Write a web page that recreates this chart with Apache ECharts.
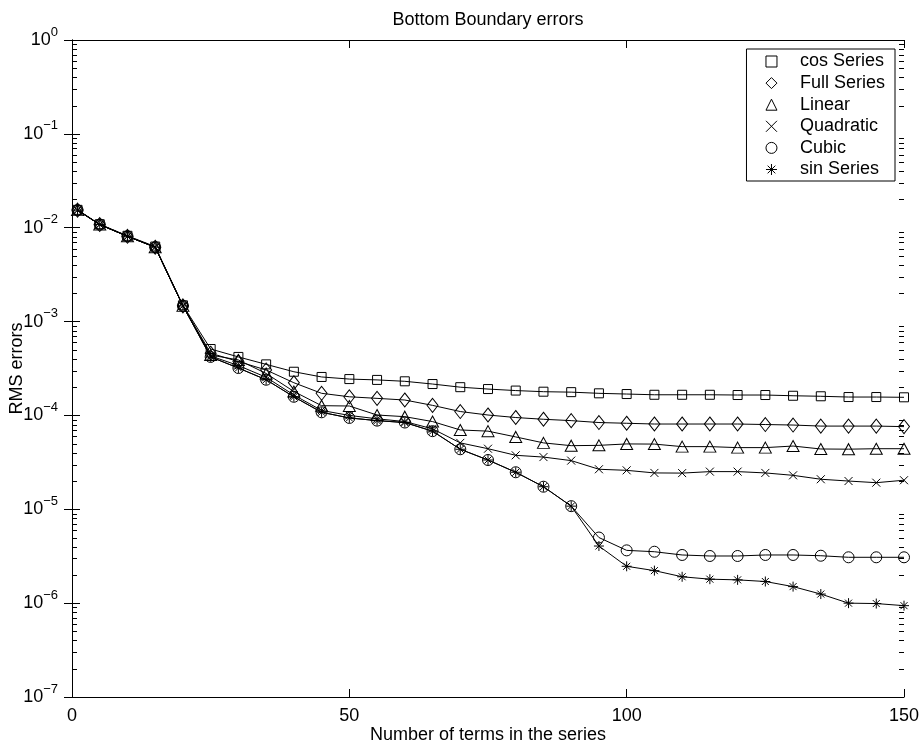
<!DOCTYPE html>
<html>
<head>
<meta charset="utf-8">
<script src="https://cdn.jsdelivr.net/npm/echarts@6/dist/echarts.min.js"></script>
<style>
  html, body { margin: 0; padding: 0; background: #fff; }
  #chart { width: 921px; height: 743px; }
</style>
</head>
<body>
<div id="chart"></div>
<script>
// number of terms (x positions)
const terms = [1, 5, 10, 15, 20, 25, 30, 35, 40, 45, 50, 55, 60, 65, 70, 75, 80, 85, 90, 95,
  100, 105, 110, 115, 120, 125, 130, 135, 140, 145, 150];

// RMS errors
const cosSeries = [0.0155, 0.0109, 0.0082, 0.0063, 0.00149, 5.1e-4, 4.2e-4, 3.5e-4, 2.92e-4, 2.57e-4,
  2.44e-4, 2.39e-4, 2.31e-4, 2.16e-4, 2.0e-4, 1.91e-4, 1.84e-4, 1.79e-4, 1.77e-4, 1.72e-4,
  1.69e-4, 1.66e-4, 1.66e-4, 1.66e-4, 1.65e-4, 1.65e-4, 1.62e-4, 1.60e-4, 1.57e-4, 1.57e-4, 1.56e-4];
const fullSeries = [0.0154, 0.0108, 0.0081, 0.0062, 0.00147, 4.6e-4, 3.75e-4, 3.05e-4, 2.23e-4, 1.72e-4,
  1.58e-4, 1.52e-4, 1.46e-4, 1.28e-4, 1.10e-4, 1.01e-4, 9.5e-5, 9.1e-5, 8.8e-5, 8.4e-5,
  8.25e-5, 8.1e-5, 8.1e-5, 8.1e-5, 8.1e-5, 8.0e-5, 7.9e-5, 7.7e-5, 7.7e-5, 7.7e-5, 7.6e-5];
const linear = [0.0154, 0.0108, 0.0081, 0.0062, 0.00147, 4.4e-4, 3.9e-4, 2.8e-4, 1.8e-4, 1.27e-4,
  1.26e-4, 1.01e-4, 9.7e-5, 8.6e-5, 7.0e-5, 6.8e-5, 5.9e-5, 5.1e-5, 4.76e-5, 4.8e-5,
  4.97e-5, 4.95e-5, 4.65e-5, 4.65e-5, 4.54e-5, 4.54e-5, 4.72e-5, 4.39e-5, 4.37e-5, 4.42e-5, 4.42e-5];
const quadratic = [0.0154, 0.0108, 0.0081, 0.0062, 0.00147, 4.3e-4, 3.4e-4, 2.55e-4, 1.65e-4, 1.13e-4,
  1.0e-4, 9.2e-5, 8.6e-5, 7.2e-5, 5.1e-5, 4.42e-5, 3.76e-5, 3.6e-5, 3.3e-5, 2.67e-5,
  2.6e-5, 2.44e-5, 2.43e-5, 2.52e-5, 2.52e-5, 2.44e-5, 2.3e-5, 2.09e-5, 2.0e-5, 1.92e-5, 2.04e-5];
const cubic = [0.0154, 0.0108, 0.0081, 0.0062, 0.00147, 4.2e-4, 3.2e-4, 2.4e-4, 1.58e-4, 1.08e-4,
  9.4e-5, 8.8e-5, 8.4e-5, 6.8e-5, 4.36e-5, 3.35e-5, 2.48e-5, 1.74e-5, 1.08e-5, 5.0e-6,
  3.65e-6, 3.53e-6, 3.26e-6, 3.18e-6, 3.18e-6, 3.26e-6, 3.26e-6, 3.2e-6, 3.08e-6, 3.08e-6, 3.08e-6];
const sinSeries = [0.0154, 0.0108, 0.0081, 0.0062, 0.00147, 4.2e-4, 3.2e-4, 2.4e-4, 1.58e-4, 1.08e-4,
  9.4e-5, 8.8e-5, 8.4e-5, 6.8e-5, 4.36e-5, 3.35e-5, 2.48e-5, 1.74e-5, 1.08e-5, 4.06e-6,
  2.47e-6, 2.22e-6, 1.91e-6, 1.80e-6, 1.77e-6, 1.70e-6, 1.50e-6, 1.25e-6, 1.0e-6, 9.9e-7, 9.4e-7];

const seriesNames = ['cos Series', 'Full Series', 'Linear', 'Quadratic', 'Cubic', 'sin Series'];
const seriesValues = [cosSeries, fullSeries, linear, quadratic, cubic, sinSeries];
const xTicks = [0, 50, 100, 150];
// log-axis minor ticks: mantissas 2..9 in every decade
const minorMantissas = [2, 3, 4, 5, 6, 7, 8, 9];
const decades = [1e-7, 1e-6, 1e-5, 1e-4, 1e-3, 1e-2, 1e-1];

const FONT = 'Liberation Sans, Arial, Helvetica, sans-serif';
const symbols = [
  { symbol: 'rect', size: 9 },
  { symbol: 'diamond', size: [11, 14] },
  { symbol: 'triangle', size: [12, 11] },
  { symbol: 'path://M0,0L10,10M10,0L0,10', size: 8 },
  { symbol: 'circle', size: 11 },
  { symbol: 'path://M5,0L5,10M0,5L10,5M1.5,1.5L8.5,8.5M8.5,1.5L1.5,8.5', size: 10 }
];

const chart = echarts.init(document.getElementById('chart'));

function expLabel(v) {
  let e = Math.round(Math.log10(v));
  let s = e < 0 ? '\u2212' + (-e) : String(e);
  return '{b|10}{s|' + s + '}';
}

const yCommon = {
  type: 'log',
  logBase: 10,
  min: 1e-7,
  max: 1,
  splitNumber: 7,
  axisLine: { show: true, lineStyle: { color: '#000', width: 1 } },
  axisTick: { show: true, inside: true, length: 8, lineStyle: { color: '#000' } },
  minorTick: { show: false },
  splitLine: { show: false },
  minorSplitLine: { show: false }
};

const xCommon = {
  type: 'value',
  min: 0,
  max: 150,
  interval: 50,
  axisLine: { show: true, lineStyle: { color: '#000', width: 1 } },
  axisTick: { show: true, inside: true, length: 8, lineStyle: { color: '#000' } },
  splitLine: { show: false }
};

// one item per tick per side: [x of the side, value]
let minorVals = [];
[0, 150].forEach(side => decades.forEach(d => minorMantissas.forEach(m => minorVals.push([side, m * d]))));

let series = [];
for (let i = 0; i < seriesNames.length; i++) {
  let pts = [];
  for (let j = 0; j < terms.length; j++) {
    pts.push([terms[j], seriesValues[i][j]]);
  }
  series.push({
    name: seriesNames[i],
    type: 'line',
    data: pts,
    symbol: symbols[i].symbol,
    symbolSize: symbols[i].size,
    showSymbol: true,
    lineStyle: { color: '#000', width: 1 },
    itemStyle: { color: 'transparent', borderColor: '#000', borderWidth: 1 },
    emphasis: { disabled: true },
    z: 2 + i
  });
}

// minor ticks on both y axes, placed through the log scale
series.push({
  type: 'custom',
  silent: true,
  clip: false,
  data: minorVals,
  renderItem: function (params, api) {
    let side = api.value(0);
    let p = api.coord([side, api.value(1)]);
    let dir = side === 0 ? 1 : -1;
    let y = Math.round(p[1]) + 0.5;
    return {
      type: 'line',
      shape: { x1: p[0], y1: y, x2: p[0] + dir * 5, y2: y },
      style: { stroke: '#000', lineWidth: 1 }
    };
  },
  z: 10
});

const option = {
  animation: false,
  backgroundColor: '#fff',
  title: {
    text: 'Bottom Boundary errors',
    left: 488,
    textAlign: 'center',
    top: 11,
    padding: 0,
    textStyle: { fontFamily: FONT, fontSize: 18, fontWeight: 'normal', color: '#000' }
  },
  grid: { left: 72, right: 17, top: 40, bottom: 46, containLabel: false, outerBoundsMode: 'none' },
  legend: {
    orient: 'vertical',
    right: 26,
    top: 49,
    padding: [2, 10, 1, 19],
    itemWidth: 11,
    itemHeight: 11,
    itemGap: 0.6,
    borderColor: '#000',
    borderWidth: 1,
    backgroundColor: '#fff',
    selectedMode: false,
    textStyle: { fontFamily: FONT, fontSize: 18, color: '#000', lineHeight: 21, padding: [0, 0, 0, 18] },
    data: seriesNames.map((n, i) => ({
      name: n,
      icon: symbols[i].symbol,
      itemStyle: { color: 'transparent', borderColor: '#000', borderWidth: 1 }
    }))
  },
  xAxis: [
    Object.assign({}, xCommon, {
      position: 'bottom',
      name: 'Number of terms in the series',
      nameLocation: 'middle',
      nameGap: 29,
      nameMoveOverlap: false,
      nameTextStyle: { fontFamily: FONT, fontSize: 18, color: '#000' },
      axisLabel: {
        fontFamily: FONT, fontSize: 18, color: '#000', margin: 10,
        formatter: v => xTicks.indexOf(v) >= 0 ? String(v) : ''
      }
    }),
    Object.assign({}, xCommon, { position: 'top', axisLabel: { show: false } })
  ],
  yAxis: [
    Object.assign({}, yCommon, {
      position: 'left',
      name: 'RMS errors',
      nameLocation: 'middle',
      nameGap: 46,
      nameMoveOverlap: false,
      nameRotate: 90,
      nameTextStyle: { fontFamily: FONT, fontSize: 18, color: '#000' },
      axisLabel: {
        margin: 14,
        color: '#000',
        formatter: expLabel,
        rich: {
          b: { fontFamily: FONT, fontSize: 18, color: '#000' },
          s: { fontFamily: FONT, fontSize: 13, color: '#000', lineHeight: 13, padding: [0, 0, 16, 0] }
        }
      }
    }),
    Object.assign({}, yCommon, { position: 'right', axisLabel: { show: false } })
  ],
  series: series
};

chart.setOption(option);
</script>
</body>
</html>
